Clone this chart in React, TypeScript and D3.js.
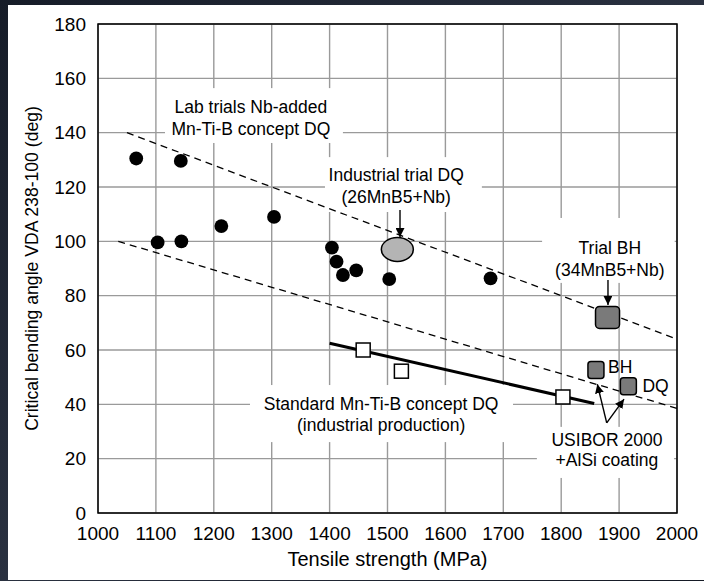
import * as d3 from "d3";

// tensile strength (MPa) vs critical bending angle (deg)
const labTS = [1066, 1143, 1103, 1144, 1213, 1304, 1404, 1412, 1423, 1446, 1503, 1678];
const labAngle = [130.5, 129.6, 99.6, 100, 105.6, 109, 97.7, 92.5, 87.6, 89.3, 86.1, 86.4];

const industrialTS = [1517];
const industrialAngle = [97];

const trialBhTS = [1880];
const trialBhAngle = [72];

const standardTS = [1458, 1524, 1803];
const standardAngle = [60, 52.2, 42.7];

const usiborGrades = ["BH", "DQ"];
const usiborTS = [1860, 1916];
const usiborAngle = [52.6, 46.7];

const standardTrendTS = [1400, 1857];
const standardTrendAngle = [62.5, 40.3];

const upperBandTS = [1050, 2000];
const upperBandAngle = [140, 64];
const lowerBandTS = [1035, 2000];
const lowerBandAngle = [100, 38.5];

const xTicks = [1000, 1100, 1200, 1300, 1400, 1500, 1600, 1700, 1800, 1900, 2000];
const yTicks = [0, 20, 40, 60, 80, 100, 120, 140, 160, 180];

const width = 704;
const height = 581;
const margin = { left: 98, right: 27, top: 24, bottom: 68 };
const font = "Arial, 'Liberation Sans', sans-serif";

const x = d3.scaleLinear().domain([1000, 2000]).range([margin.left, width - margin.right]);
const y = d3.scaleLinear().domain([0, 180]).range([height - margin.bottom, margin.top]);

const line = d3
  .line<[number, number]>()
  .x((d) => x(d[0]))
  .y((d) => y(d[1]));

const zip = (a: number[], b: number[]) => a.map((v, i) => [v, b[i]] as [number, number]);

// text boxes: white patches hiding the grid, positioned in data units
const notes = [
  { lines: ["Lab trials Nb-added", "Mn-Ti-B concept DQ"], cx: 1264, ys: [149.4, 141.3], box: [1115.7, 1423, 156.4, 136.2] },
  { lines: ["Industrial trial DQ", "(26MnB5+Nb)"], cx: 1515, ys: [124.6, 116.5], box: [1392, 1663, 131, 110.8] },
  { lines: ["Trial BH", "(34MnB5+Nb)"], cx: 1884, ys: [97.5, 89.4], box: [1767, 1996, 108.6, 84.7] },
  { lines: ["Standard Mn-Ti-B concept DQ", "(industrial production)"], cx: 1489, ys: [40.1, 32.4], box: [1262.5, 1716.8, 47.1, 26.1] },
  { lines: ["USIBOR 2000", "+AlSi coating"], cx: 1879, ys: [26.9, 19.5], box: [1758, 1995, 31.7, 12.9] },
];

const arrows = [
  [[1521.6, 111.5], [1521.6, 101.6]],
  [[1880.8, 85.8], [1880.8, 76.6]],
  [[1878.6, 33.2], [1862.4, 47.4]],
  [[1878.6, 33.2], [1908.5, 41.9]],
];

const usiborLabelTS = [1880.8, 1940.4];

export default function App() {
  const x0 = margin.left;
  const x1 = width - margin.right;
  const y0 = height - margin.bottom;
  const y1 = margin.top;

  return (
    <svg width={width} height={height} style={{ position: "absolute", left: 0, top: 0 }} fontFamily={font}>
      <defs>
        <linearGradient id="bg" x1="0" y1="0" x2="1" y2="1">
          <stop offset="0" stopColor="#161c28" />
          <stop offset="0.5" stopColor="#2a3140" />
          <stop offset="1" stopColor="#151a25" />
        </linearGradient>
        <marker id="head" viewBox="0 0 10 10" refX="10" refY="5" markerWidth="9" markerHeight="9" orient="auto" markerUnits="userSpaceOnUse">
          <path d="M0,0 L10,5 L0,10 z" fill="#000" />
        </marker>
      </defs>
      <rect width={width} height={height} fill="url(#bg)" />
      <rect x={8} y={5} width={width - 8} height={575} fill="#fff" />

      {/* grid */}
      {xTicks.map((t) => (
        <line key={"gx" + t} x1={x(t)} x2={x(t)} y1={y1} y2={y0} stroke="#9a9a9a" strokeWidth={1.4} />
      ))}
      {yTicks.map((t) => (
        <line key={"gy" + t} x1={x0} x2={x1} y1={y(t)} y2={y(t)} stroke="#9a9a9a" strokeWidth={1.4} />
      ))}

      {/* white note boxes */}
      {notes.map((n, i) => (
        <rect
          key={"nb" + i}
          x={x(n.box[0])}
          y={y(n.box[2])}
          width={x(n.box[1]) - x(n.box[0])}
          height={y(n.box[3]) - y(n.box[2])}
          fill="#fff"
        />
      ))}

      {/* frame */}
      <rect x={x0} y={y1} width={x1 - x0} height={y0 - y1} fill="none" stroke="#000" strokeWidth={1.5} />

      {/* ticks */}
      {yTicks.map((t) => (
        <text key={"ty" + t} x={86} y={y(t)} dy="0.35em" textAnchor="end" fontSize={19} fill="#000">
          {t}
        </text>
      ))}
      {xTicks.map((t) => (
        <text key={"tx" + t} x={x(t)} y={540} textAnchor="middle" fontSize={19} fill="#000">
          {t}
        </text>
      ))}
      <text x={(x0 + x1) / 2} y={566} textAnchor="middle" fontSize={20} fill="#000">
        Tensile strength (MPa)
      </text>
      <text
        transform={`translate(38,${(y0 + y1) / 2}) rotate(-90)`}
        textAnchor="middle"
        fontSize={17.6}
        fill="#000"
      >
        Critical bending angle VDA 238-100 (deg)
      </text>

      {/* bands */}
      <path d={line(zip(upperBandTS, upperBandAngle)) || ""} stroke="#000" strokeWidth={1.3} strokeDasharray="7,5" fill="none" />
      <path d={line(zip(lowerBandTS, lowerBandAngle)) || ""} stroke="#000" strokeWidth={1.3} strokeDasharray="7,5" fill="none" />
      <path d={line(zip(standardTrendTS, standardTrendAngle)) || ""} stroke="#000" strokeWidth={3} fill="none" />

      {/* points */}
      {labTS.map((t, i) => (
        <circle key={"lab" + i} cx={x(t)} cy={y(labAngle[i])} r={6.9} fill="#000" />
      ))}
      {industrialTS.map((t, i) => (
        <ellipse key={"ind" + i} cx={x(t)} cy={y(industrialAngle[i])} rx={16} ry={12} fill="#b4b4b4" stroke="#000" strokeWidth={1.5} />
      ))}
      {trialBhTS.map((t, i) => (
        <rect key={"tbh" + i} x={x(t) - 12} y={y(trialBhAngle[i]) - 11} width={24} height={22} rx={4} fill="#7a7a7a" stroke="#000" strokeWidth={1.5} />
      ))}
      {standardTS.map((t, i) => (
        <rect key={"std" + i} x={x(t) - 7} y={y(standardAngle[i]) - 7} width={14} height={14} fill="#fff" stroke="#000" strokeWidth={1.5} />
      ))}
      {usiborTS.map((t, i) => (
        <rect key={"us" + i} x={x(t) - 8} y={y(usiborAngle[i]) - 8.5} width={16} height={17} rx={3} fill="#7a7a7a" stroke="#000" strokeWidth={1.5} />
      ))}
      {usiborGrades.map((g, i) => (
        <text key={"ul" + g} x={x(usiborLabelTS[i])} y={y(usiborAngle[i] + (i === 0 ? 1.1 : 0))} dy="0.35em" fontSize={17.5} fill="#000">
          {g}
        </text>
      ))}

      {/* arrows */}
      {arrows.map((a, i) => (
        <line
          key={"ar" + i}
          x1={x(a[0][0])}
          y1={y(a[0][1])}
          x2={x(a[1][0])}
          y2={y(a[1][1])}
          stroke="#000"
          strokeWidth={1.4}
          markerEnd="url(#head)"
        />
      ))}

      {/* note text */}
      {notes.map((n, i) =>
        n.lines.map((l, j) => (
          <text key={"nt" + i + j} x={x(n.cx)} y={y(n.ys[j])} dy="0.35em" textAnchor="middle" fontSize={17.5} fill="#000">
            {l}
          </text>
        ))
      )}
    </svg>
  );
}
